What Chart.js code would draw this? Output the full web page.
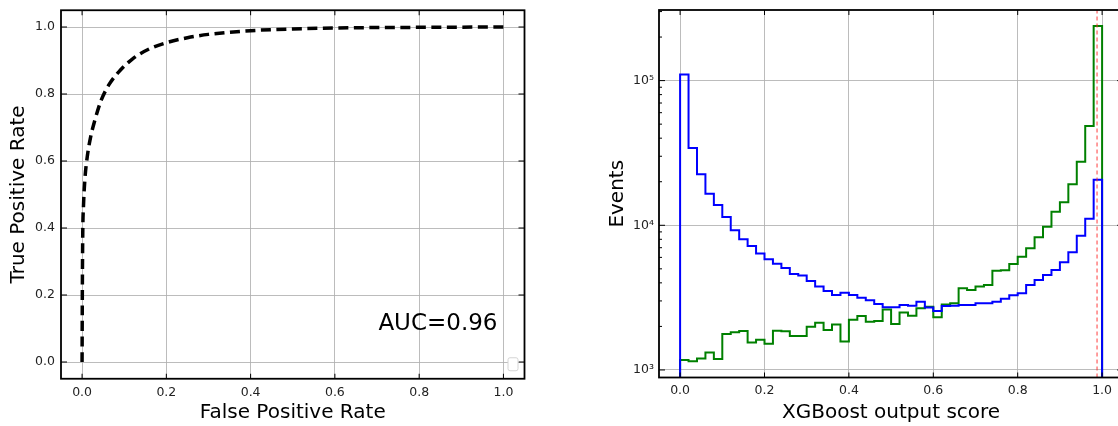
<!DOCTYPE html>
<html lang="en">

<head>
  <meta charset="UTF-8">
  <title>ROC curve and XGBoost output score</title>
  <style>
    body { margin: 0; background: #fff; overflow: hidden; }
    #wrap { position: relative; width: 1118px; height: 426px; overflow: hidden; }
    #roc { position: absolute; left: 0; top: 0; }
    #hist { position: absolute; left: 560px; top: 0; }
  </style>
</head>

<body>
  <script src="https://cdn.jsdelivr.net/npm/chart.js"></script>

  <div id="wrap">
    <canvas id="roc" width="545" height="426"></canvas>
    <canvas id="hist" width="580" height="426"></canvas>
  </div>

  <script>
    // ROC curve, points
    const fpr = [0, 0.0006, 0.0016, 0.0035, 0.007, 0.012, 0.02, 0.03, 0.045, 0.065, 0.09, 0.12, 0.16, 0.2, 0.25, 0.3, 0.4, 0.5, 0.6, 0.8, 1.0];
    const tpr = [0, 0.2, 0.38, 0.47, 0.55, 0.61, 0.67, 0.72, 0.78, 0.83, 0.87, 0.905, 0.935, 0.953, 0.968, 0.978, 0.989, 0.994, 0.997, 0.999, 1.0];
    const aucText = 'AUC=0.96';

    // score histogram: 50 bins on [0, 1]
    const binEdges = [0.00, 0.02, 0.04, 0.06, 0.08, 0.10, 0.12, 0.14, 0.16, 0.18,
      0.20, 0.22, 0.24, 0.26, 0.28, 0.30, 0.32, 0.34, 0.36, 0.38,
      0.40, 0.42, 0.44, 0.46, 0.48, 0.50, 0.52, 0.54, 0.56, 0.58,
      0.60, 0.62, 0.64, 0.66, 0.68, 0.70, 0.72, 0.74, 0.76, 0.78,
      0.80, 0.82, 0.84, 0.86, 0.88, 0.90, 0.92, 0.94, 0.96, 0.98, 1.00];
    // blue
    const bkgCounts = [110000, 34200, 22500, 16500, 13800, 11400, 9230, 8000, 7190, 6370,
      5820, 5430, 5070, 4600, 4490, 4120, 3770, 3520, 3300, 3420,
      3300, 3160, 3030, 2860, 2710, 2710, 2810, 2780, 2960, 2700,
      2560, 2770, 2780, 2810, 2810, 2890, 2890, 2960, 3100, 3280,
      3390, 3870, 4190, 4530, 4910, 5550, 6500, 8470, 11100, 20600];
    // green
    const sigCounts = [1170, 1150, 1200, 1320, 1190, 1770, 1820, 1860, 1550, 1620,
      1520, 1870, 1850, 1720, 1720, 1990, 2120, 1890, 2060, 1570,
      2220, 2360, 2150, 2180, 2620, 2080, 2500, 2370, 2670, 2740,
      2310, 2830, 2890, 3670, 3570, 3770, 3870, 4850, 4880, 5400,
      6060, 6930, 8260, 9780, 12400, 14400, 19200, 27500, 48500, 238000];
    const cutScore = 0.988;

    const xTicks = [0, 0.2, 0.4, 0.6, 0.8, 1.0];
    const rocYTicks = [0, 0.2, 0.4, 0.6, 0.8, 1.0];
    const logTicks = [1e3, 1e4, 1e5];
    const logTickLabels = ['10³', '10⁴', '10⁵'];
    const logMinor = [2e3, 3e3, 4e3, 5e3, 6e3, 7e3, 8e3, 9e3, 2e4, 3e4, 4e4, 5e4, 6e4, 7e4, 8e4, 9e4, 2e5, 3e5];

    const logMin = 887, logMax = 307600;

    Chart.defaults.font.family = "'DejaVu Sans', sans-serif";
    Chart.defaults.color = '#222';

    const gridColor = 'rgba(176,176,176,0.85)';

    // keep the axes from pushing the plot area around
    const noPad = s => { s.paddingLeft = 0; s.paddingRight = 0; s.paddingTop = 0; s.paddingBottom = 0; };

    // matplotlib style box: frame + inward ticks on all four sides
    const mplAxes = {
      id: 'mplAxes',
      afterDatasetsDraw(chart, args, opts) {
        const { ctx, chartArea: a, scales } = chart;
        const line = (x1, y1, x2, y2) => { ctx.beginPath(); ctx.moveTo(x1, y1); ctx.lineTo(x2, y2); ctx.stroke(); };
        ctx.save();
        ctx.strokeStyle = '#000';
        ctx.lineWidth = 1;
        xTicks.forEach(v => {
          const px = scales.x.getPixelForValue(v);
          line(px, a.bottom, px, a.bottom - 5);
          line(px, a.top, px, a.top + 5);
        });
        (opts.yMajor || []).forEach(v => {
          const py = scales.y.getPixelForValue(v);
          line(a.left, py, a.left + 6, py);
          line(a.right, py, a.right - 6, py);
        });
        (opts.yMinor || []).forEach(v => {
          const py = scales.y.getPixelForValue(v);
          if (py < a.top || py > a.bottom) return;
          line(a.left, py, a.left + 3, py);
          line(a.right, py, a.right - 3, py);
        });
        ctx.lineWidth = 1.8;
        ctx.strokeRect(a.left, a.top, a.right - a.left, a.bottom - a.top);

        if (opts.auc) {
          ctx.fillStyle = '#000';
          ctx.font = "23px 'DejaVu Sans'";
          ctx.textAlign = 'right';
          ctx.textBaseline = 'alphabetic';
          ctx.fillText(opts.auc, a.right - 27, a.bottom - 49);
          // empty legend frame
          ctx.strokeStyle = '#d4d4d4';
          ctx.fillStyle = '#fff';
          ctx.lineWidth = 1;
          ctx.beginPath();
          ctx.roundRect(a.right - 16.5, a.bottom - 21, 10, 13, 2);
          ctx.fill();
          ctx.stroke();
        }
        ctx.restore();
      }
    };

    // ROC curve
    new Chart(document.getElementById('roc'), {
      type: 'line',
      data: {
        datasets: [{
          data: fpr.map((x, i) => ({ x, y: tpr[i] })),
          borderColor: '#000',
          borderWidth: 3.5,
          borderDash: [10, 5.5],
          pointRadius: 0,
          cubicInterpolationMode: 'monotone',
          fill: false
        }]
      },
      plugins: [mplAxes],
      options: {
        responsive: false,
        animation: false,
        devicePixelRatio: 1,
        layout: { padding: { top: 10.25, right: 20.5, bottom: 0, left: 0 } },
        plugins: {
          legend: { display: false },
          tooltip: { enabled: false },
          mplAxes: { yMajor: rocYTicks, auc: aucText }
        },
        scales: {
          x: {
            type: 'linear',
            min: -0.05,
            max: 1.05,
            afterBuildTicks: s => { s.ticks = xTicks.map(v => ({ value: v })); },
            afterFit: s => { s.height = 47.25; noPad(s); },
            grid: { color: gridColor, lineWidth: 1, drawTicks: false },
            border: { display: false },
            ticks: { padding: 6, font: { size: 12.5 }, maxRotation: 0, callback: v => v.toFixed(1) },
            title: { display: true, text: 'False Positive Rate', color: '#000', font: { size: 20 }, padding: { top: 0, bottom: 1 } }
          },
          y: {
            type: 'linear',
            min: -0.05,
            max: 1.05,
            afterBuildTicks: s => { s.ticks = rocYTicks.map(v => ({ value: v })); },
            afterFit: s => { s.width = 61; noPad(s); },
            grid: { color: gridColor, lineWidth: 1, drawTicks: false },
            border: { display: false },
            ticks: { padding: 6, font: { size: 12.5 }, callback: v => v.toFixed(1) },
            title: { display: true, text: 'True Positive Rate', color: '#000', font: { size: 20 }, padding: { top: 7, bottom: 0 } }
          }
        }
      }
    });

    // outline of a step histogram
    const stepLine = counts => {
      const pts = [{ x: binEdges[0], y: logMin / 10 }];
      counts.forEach((c, i) => pts.push({ x: binEdges[i], y: c }));
      pts.push({ x: binEdges[counts.length], y: counts[counts.length - 1] });
      pts.push({ x: binEdges[counts.length], y: logMin / 10 });
      return pts;
    };

    new Chart(document.getElementById('hist'), {
      type: 'line',
      data: {
        datasets: [{
          label: 'cut',
          data: [{ x: cutScore, y: logMin }, { x: cutScore, y: logMax }],
          borderColor: 'rgba(255,40,40,0.9)',
          borderWidth: 1,
          borderDash: [4, 3],
          pointRadius: 0
        }, {
          label: 'background',
          data: stepLine(bkgCounts),
          borderColor: '#0000ff',
          borderWidth: 2,
          stepped: 'before',
          pointRadius: 0,
          clip: 0
        }, {
          label: 'signal',
          data: stepLine(sigCounts),
          borderColor: '#008000',
          borderWidth: 2,
          stepped: 'before',
          pointRadius: 0,
          clip: 0
        }]
      },
      plugins: [mplAxes],
      options: {
        responsive: false,
        animation: false,
        devicePixelRatio: 1,
        layout: { padding: { top: 10, right: 16.8, bottom: 0, left: 0 } },
        plugins: {
          legend: { display: false },
          tooltip: { enabled: false },
          mplAxes: { yMajor: logTicks, yMinor: logMinor }
        },
        scales: {
          x: {
            type: 'linear',
            min: -0.05,
            max: 1.05,
            afterBuildTicks: s => { s.ticks = xTicks.map(v => ({ value: v })); },
            afterFit: s => { s.height = 48.5; noPad(s); },
            grid: { color: gridColor, lineWidth: 1, drawTicks: false },
            border: { display: false },
            ticks: { padding: 6, font: { size: 12.5 }, maxRotation: 0, callback: v => v.toFixed(1) },
            title: { display: true, text: 'XGBoost output score', color: '#000', font: { size: 20 }, padding: { top: 0, bottom: 1 } }
          },
          y: {
            type: 'logarithmic',
            min: logMin,
            max: logMax,
            afterBuildTicks: s => { s.ticks = logTicks.map(v => ({ value: v })); },
            afterFit: s => { s.width = 99; noPad(s); },
            grid: { color: gridColor, lineWidth: 1, drawTicks: false },
            border: { display: false },
            ticks: { padding: 5, font: { size: 12.5 }, callback: v => logTickLabels[logTicks.indexOf(v)] },
            title: { display: true, text: 'Events', color: '#000', font: { size: 20 }, padding: { top: 46, bottom: 0 } }
          }
        }
      }
    });
  </script>

</body>

</html>
